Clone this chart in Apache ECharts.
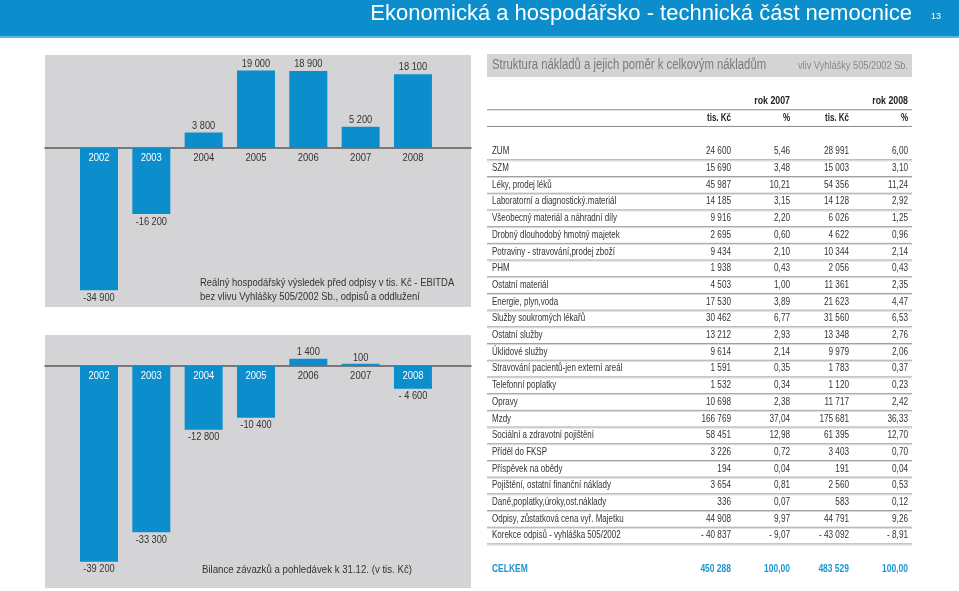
<!DOCTYPE html>
<html><head><meta charset="utf-8">
<script src="https://cdn.jsdelivr.net/npm/echarts@6/dist/echarts.min.js"></script>
<style>html,body{margin:0;padding:0;background:#fff}#c{width:959px;height:591px}</style>
</head><body><div id="c"></div>
<script>
// ---- data ----
const years = ['2002','2003','2004','2005','2006','2007','2008'];
const ebitda = [-34900,-16200,3800,19000,18900,5200,18100];
const ebitdaLabels = ['-34 900','-16 200','3 800','19 000','18 900','5 200','18 100'];
const balance = [-39200,-33300,-12800,-10400,1400,100,-4600];
const balanceLabels = ['-39 200','-33 300','-12 800','-10 400','1 400','100','- 4 600'];

const costItems = ['ZUM','SZM','Léky, prodej léků','Laboratorní a diagnostický.materiál','Všeobecný materiál a náhradní díly','Drobný dlouhodobý hmotný majetek','Potraviny - stravování,prodej zboží','PHM','Ostatní materiál','Energie, plyn,voda','Služby soukromých lékařů','Ostatní služby','Úklidové služby','Stravování pacientů-jen externí areál','Telefonní poplatky','Opravy','Mzdy','Sociální a zdravotní pojištění','Příděl do FKSP','Příspěvek na obědy','Pojištění, ostatní finanční náklady','Daně,poplatky,úroky,ost.náklady','Odpisy, zůstatková cena vyř. Majetku','Korekce odpisů - vyhláška 505/2002'];
const cost2007 = [24600,15690,45987,14185,9916,2695,9434,1938,4503,17530,30462,13212,9614,1591,1532,10698,166769,58451,3226,194,3654,336,44908,-40837];
const pct2007 = [5.46,3.48,10.21,3.15,2.20,0.60,2.10,0.43,1.00,3.89,6.77,2.93,2.14,0.35,0.34,2.38,37.04,12.98,0.72,0.04,0.81,0.07,9.97,-9.07];
const cost2008 = [28991,15003,54356,14128,6026,4622,10344,2056,11361,21623,31560,13348,9979,1783,1120,11717,175681,61395,3403,191,2560,583,44791,-43092];
const pct2008 = [6.00,3.10,11.24,2.92,1.25,0.96,2.14,0.43,2.35,4.47,6.53,2.76,2.06,0.37,0.23,2.42,36.33,12.70,0.70,0.04,0.53,0.12,9.26,-8.91];
const totalLabel = 'CELKEM';
const total2007 = 450288, totalPct2007 = 100.00;
const total2008 = 483529, totalPct2008 = 100.00;
const headerYears = ['rok 2007','rok 2008'];
const headerUnits = ['tis. Kč','%','tis. Kč','%'];

// ---- helpers ----
const FONT = "'Liberation Sans',Arial,Helvetica,sans-serif";
const BLUE = '#0b8ecb';
const PANEL = '#d4d4d6';
function fmtInt(v){
  const s = Math.abs(Math.round(v)).toString().replace(/\B(?=(\d{3})+(?!\d))/g,' ');
  return (v < 0 ? '- ' : '') + s;
}
function fmtPct(v){
  const s = Math.abs(v).toFixed(2).replace('.',',');
  return (v < 0 ? '- ' : '') + s;
}

const FIRST = 3;
const totalRow = FIRST + costItems.length + 1;
const nRows = totalRow + 1;
const rowCats = Array.from({length:nRows},(_,i)=>String(i));
const tableData = [[0,0],[0,1]].concat(costItems.map((_,i)=>[0,FIRST+i])).concat([[0,totalRow]]);

function barSeries(vals, axis){
  return {
    type:'bar', xAxisIndex:axis, yAxisIndex:axis, barWidth:38, barMinHeight:2,
    itemStyle:{color:BLUE},
    data: vals.map((v,i)=>[i,v]),
    silent:true, animation:false
  };
}
// value labels + year labels drawn through the axes' scales
function labelSeries(vals, labels, axis, yearDist){
  return {
    type:'custom', xAxisIndex:axis, yAxisIndex:axis, silent:true, animation:false, z:5,
    data: vals.map((v,i)=>[i,v]),
    renderItem:function(params, api){
      const i = api.value(0), v = api.value(1);
      const top = api.coord([i, v]);
      const zero = api.coord([i, 0]);
      const pos = v >= 0;
      return {type:'group', children:[
        {type:'text', x:top[0], y: pos ? top[1]-1.5 : top[1]+2, scaleX:0.84,
          style:{text:labels[params.dataIndex], align:'center', verticalAlign: pos?'bottom':'top',
            fill:'#333', font:'11px '+FONT}},
        {type:'text', x:zero[0], y:zero[1]+yearDist, scaleX:0.86,
          style:{text:years[params.dataIndex], align:'center', verticalAlign:'top',
            fill: pos ? '#333' : '#ffffff', font:'11px '+FONT}}
      ]};
    }
  };
}

// column right edges (table x units = px from grid left)
const COLS = [244, 303, 362, 421];
const LABEL_X = 5;

const tableSeries = {
  type:'custom', xAxisIndex:2, yAxisIndex:2, animation:false, silent:true,
  data: tableData,
  renderItem:function(params, api){
    const row = api.value(1);
    const y = api.coord([0,row])[1];
    const h = api.size([0,1])[1];
    const x0 = api.coord([0,row])[0];
    const x1 = api.coord([425,row])[0];
    const cx = c => api.coord([c,row])[0];
    const kids = [];
    const txt = (x, s, align, sx, opt) => kids.push({type:'text', x:x, y:y, scaleX:sx, style:Object.assign({
      text:s, align:align, verticalAlign:'middle', fill:'#333', font:'10.5px '+FONT}, opt||{})});
    const hdr = {font:'bold 10px '+FONT, fill:'#222'};
    if (row === 0) {
      txt(cx(COLS[1]), headerYears[0], 'right', 0.88, hdr);
      txt(cx(COLS[3]), headerYears[1], 'right', 0.88, hdr);
      kids.push({type:'line', shape:{x1:x0,y1:y+h/2,x2:x1,y2:y+h/2}, style:{stroke:'#8a8a8a', lineWidth:1}});
    } else if (row === 1) {
      headerUnits.forEach((u,k)=>txt(cx(COLS[k]), u, 'right', 0.8, hdr));
      kids.push({type:'line', shape:{x1:x0,y1:y+h/2,x2:x1,y2:y+h/2}, style:{stroke:'#8a8a8a', lineWidth:1}});
    } else if (row === totalRow) {
      const st = {font:'bold 11px '+FONT, fill:'#1f95cf'};
      txt(cx(LABEL_X), totalLabel, 'left', 0.77, st);
      txt(cx(COLS[0]), fmtInt(total2007), 'right', 0.77, st);
      txt(cx(COLS[1]), fmtPct(totalPct2007), 'right', 0.77, st);
      txt(cx(COLS[2]), fmtInt(total2008), 'right', 0.77, st);
      txt(cx(COLS[3]), fmtPct(totalPct2008), 'right', 0.77, st);
    } else {
      const i = row - FIRST;
      txt(cx(LABEL_X), costItems[i], 'left', 0.76);
      txt(cx(COLS[0]), fmtInt(cost2007[i]), 'right', 0.78);
      txt(cx(COLS[1]), fmtPct(pct2007[i]), 'right', 0.78);
      txt(cx(COLS[2]), fmtInt(cost2008[i]), 'right', 0.78);
      txt(cx(COLS[3]), fmtPct(pct2008[i]), 'right', 0.78);
      kids.push({type:'line', shape:{x1:x0,y1:y+h/2,x2:x1,y2:y+h/2}, style:{stroke:'#9c9c9c', lineWidth:1}});
      kids.push({type:'line', shape:{x1:x0,y1:y+h/2+1,x2:x1,y2:y+h/2+1}, style:{stroke:'#d6d6d6', lineWidth:1}});
    }
    return {type:'group', children:kids};
  }
};

const option = {
  animation:false,
  backgroundColor:'#ffffff',
  graphic:[
    {type:'rect', shape:{x:0,y:0,width:959,height:36}, style:{fill:BLUE}, silent:true, z:-10},
    {type:'rect', shape:{x:0,y:36,width:959,height:2}, style:{fill:'#5cb8e2'}, silent:true, z:-10},
    {type:'rect', shape:{x:487,y:54,width:425,height:23}, style:{fill:PANEL}, silent:true, z:-10},
    {type:'text', x:912, y:3, silent:true,
      style:{text:'Ekonomická a hospodářsko - technická část nemocnice', align:'right', verticalAlign:'top', fill:'#fff', font:'22px '+FONT}},
    {type:'text', x:941, y:12, silent:true,
      style:{text:'13', align:'right', verticalAlign:'top', fill:'#fff', font:'9px '+FONT}},
    {type:'text', x:200, y:276, scaleX:0.82, silent:true,
      style:{text:'Reálný hospodářský výsledek před odpisy v tis. Kč - EBITDA\nbez vlivu Vyhlášky 505/2002 Sb., odpisů a oddlužení', align:'left', verticalAlign:'top', fill:'#333', font:'11.5px '+FONT, lineHeight:14}},
    {type:'text', x:202, y:564, scaleX:0.84, silent:true,
      style:{text:'Bilance závazků a pohledávek k 31.12. (v tis. Kč)', align:'left', verticalAlign:'top', fill:'#333', font:'11.5px '+FONT}},
    {type:'text', x:492, y:58, scaleX:0.81, silent:true,
      style:{text:'Struktura nákladů a jejich poměr k celkovým nákladům', align:'left', verticalAlign:'top', fill:'#7a7a7a', font:'14px '+FONT}},
    {type:'text', x:908, y:61, scaleX:0.88, silent:true,
      style:{text:'vliv Vyhlášky 505/2002 Sb.', align:'right', verticalAlign:'top', fill:'#888', font:'10.5px '+FONT}}
  ],
  grid:[
    {left:45, top:55, width:426, height:252, show:true, backgroundColor:PANEL, borderWidth:0},
    {left:45, top:335, width:426, height:253, show:true, backgroundColor:PANEL, borderWidth:0},
    {left:487, top:93.05, width:425, height:nRows*16.7}
  ],
  xAxis:[
    {gridIndex:0, type:'value', min:-1.032, max:7.109, axisLine:{show:true,onZero:true,lineStyle:{color:'#5a5a5a',width:1.5}}, axisTick:{show:false}, axisLabel:{show:false}, splitLine:{show:false}},
    {gridIndex:1, type:'value', min:-1.032, max:7.109, axisLine:{show:true,onZero:true,lineStyle:{color:'#5a5a5a',width:1.5}}, axisTick:{show:false}, axisLabel:{show:false}, splitLine:{show:false}},
    {gridIndex:2, type:'value', min:0, max:425, show:false}
  ],
  yAxis:[
    {gridIndex:0, type:'value', min:-39000, max:22800, show:false, splitLine:{show:false}},
    {gridIndex:1, type:'value', min:-44460, max:6140, show:false, splitLine:{show:false}},
    {gridIndex:2, type:'category', data:rowCats, inverse:true, show:false}
  ],
  series:[
    barSeries(ebitda, 0),
    labelSeries(ebitda, ebitdaLabels, 0, 4),
    barSeries(balance, 1),
    labelSeries(balance, balanceLabels, 1, 5),
    tableSeries
  ]
};
const chart = echarts.init(document.getElementById('c'), null, {renderer:'canvas'});
chart.setOption(option);
</script>
</body></html>
